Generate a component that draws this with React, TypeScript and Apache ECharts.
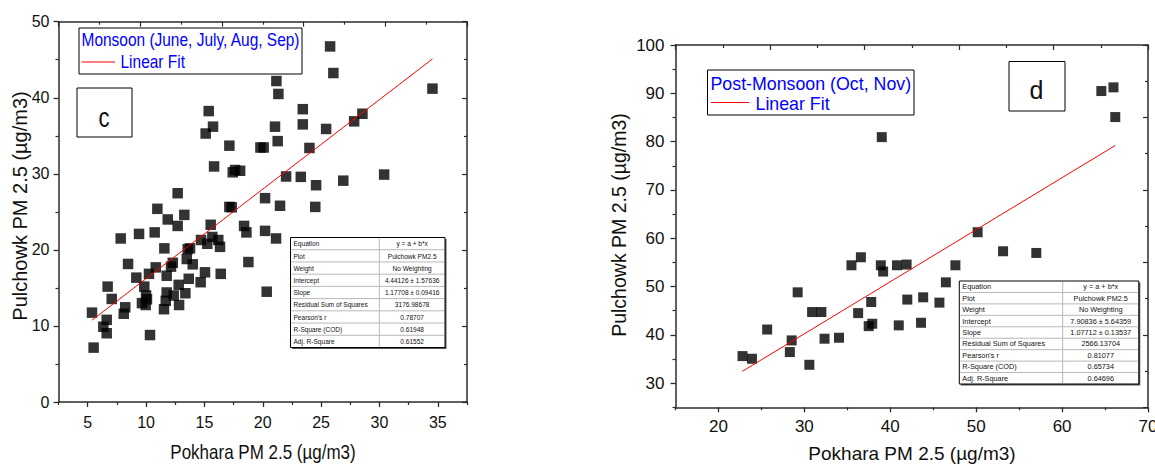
import React, { useEffect, useRef } from "react";
import * as echarts from "echarts";

// ---------- data ----------
const monsoonPokhara = [
  25.77, 26.05, 21.17, 21.34, 34.54, 15.37, 15.74, 15.11, 17.14, 19.8, 20.08, 21.05, 21.28, 23.43, 23.43, 24.0, 25.43, 27.83, 28.54,
  15.83, 17.43, 17.63, 18.06, 22.0, 23.26, 24.57, 26.9, 30.4, 24.5, 21.48, 20.2, 17.14, 17.34, 18.4, 18.6, 20.2, 21.14, 18.77, 20.34,
  12.71, 10.97, 13.28, 11.86, 12.71, 15.54, 9.4, 10.74, 7.83, 11.57, 13.57, 13.77, 14.71, 15.68, 16.19, 16.34, 15.25, 12.29, 12.14,
  13.49, 14.0, 10.83, 10.25, 8.46, 9.17, 9.85, 11.77, 13.66, 15.05, 16.4, 14.68, 12.8, 6.71, 7.06, 10.0, 10.08, 11.77, 11.69, 12.37,
  13.37, 9.65, 8.22, 9.97, 11.54, 12.83, 5.37, 6.63, 6.34, 6.63, 5.51, 8.09, 10.34,
];
const monsoonPulchowk = [
  46.75, 43.25, 42.2, 40.5, 41.2, 38.25, 36.2, 35.3, 33.7, 33.46, 33.46, 36.2, 34.3, 38.5, 36.5, 33.4, 35.9, 36.9, 37.9,
  30.97, 30.2, 30.5, 30.4, 29.65, 29.6, 28.5, 29.1, 29.9, 25.65, 25.8, 26.8, 25.65, 25.6, 23.15, 22.3, 22.5, 21.5, 18.4, 14.5,
  27.45, 25.4, 24.6, 24.0, 23.15, 23.3, 22.1, 22.3, 21.5, 20.2, 20.1, 20.2, 21.3, 21.7, 21.3, 20.4, 20.8, 18.3, 17.8,
  18.8, 18.1, 17.7, 16.85, 18.15, 16.35, 15.17, 16.6, 16.2, 17.05, 16.85, 15.75, 15.4, 15.17, 13.55, 14.0, 13.5, 14.4, 13.3, 14.0,
  14.3, 13.0, 12.45, 12.75, 12.2, 12.75, 11.75, 10.8, 9.9, 9.04, 7.15, 11.6, 8.8,
];
const postPokhara = [
  39.01, 64.57, 65.98, 66.19, 50.17, 53.13, 57.0, 35.48, 36.58, 38.9, 39.17, 40.78, 41.9, 47.58, 46.47, 29.22, 37.78, 41.98,
  43.83, 45.72, 30.9, 31.98, 36.26, 37.49, 37.9, 40.99, 43.58, 34.03, 32.35, 28.52, 28.31, 25.67, 30.58, 22.8, 23.9,
];
const postPulchowk = [
  80.93, 90.47, 91.23, 85.08, 61.24, 57.3, 56.95, 54.4, 56.06, 54.4, 53.1, 54.4, 54.55, 54.4, 50.87, 48.8, 46.8, 47.3,
  47.77, 46.67, 44.72, 44.72, 44.5, 41.8, 42.3, 41.96, 42.5, 39.4, 39.2, 38.85, 36.43, 41.1, 33.8, 35.6, 35.05,
];

// linear fits: [intercept, slope] and x-range of the drawn line
const monsoonFitCoef = [4.44126, 1.17708];
const monsoonFitRange = [5.37, 34.54];
const postFitCoef = [7.90836, 1.07712];
const postFitRange = [22.8, 66.19];

// ticks
const leftXMajor = [5, 10, 15, 20, 25, 30, 35];
const leftXMinor = [2.5, 7.5, 12.5, 17.5, 22.5, 27.5, 32.5, 37.5];
const leftYMajor = [0, 10, 20, 30, 40, 50];
const leftYMinor = [5, 15, 25, 35, 45];
const rightXMajor = [20, 30, 40, 50, 60, 70];
const rightXMinor = [15, 25, 35, 45, 55, 65];
const rightYMajor = [30, 40, 50, 60, 70, 80, 90, 100];
const rightYMinor = [25, 35, 45, 55, 65, 75, 85, 95];

// fit tables
const tableLabels = [
  "Equation", "Plot", "Weight", "Intercept", "Slope", "Residual Sum of Squares", "Pearson's r", "R-Square (COD)", "Adj. R-Square",
];
const monsoonStats = [
  "y = a + b*x", "Pulchowk PM2.5", "No Weighting", "4.44126 ± 1.57636", "1.17708 ± 0.09416", "3176.98678", "0.78707", "0.61948", "0.61552",
];
const postStats = [
  "y = a + b*x", "Pulchowk PM2.5", "No Weighting", "7.90836 ± 5.64359", "1.07712 ± 0.13537", "2566.13704", "0.81077", "0.65734", "0.64696",
];

const SANS = "'Liberation Sans', Arial, sans-serif";
const AX = "#2b2b2b";
const SQ = 0.82; // horizontal squeeze of the left panel's table texts

function axisSet(dim: string, grid: number, min: number, max: number, majors: number[], minors: number[], fontSize: number, margin: number) {
  const isX = dim === "x";
  const common = { type: "value", gridIndex: grid, min, max, splitLine: { show: false } };
  const main = {
    ...common,
    position: isX ? "bottom" : "left",
    axisLine: { show: true, onZero: false, lineStyle: { color: AX, width: 1.5 } },
    axisTick: { show: true, inside: false, length: 5, customValues: majors, lineStyle: { color: AX, width: 1.3 } },
    axisLabel: { show: true, customValues: majors, color: "#111", fontFamily: SANS, fontSize, margin },
  };
  const minor = {
    ...common,
    position: isX ? "bottom" : "left",
    axisLine: { show: false, onZero: false },
    axisTick: { show: true, inside: false, length: 3, customValues: minors, lineStyle: { color: AX, width: 1.2 } },
    axisLabel: { show: false },
  };
  const mirror = {
    ...common,
    position: isX ? "top" : "right",
    interval: (max - min) / 5,
    axisLine: { show: true, onZero: false, lineStyle: { color: AX, width: 1.5 } },
    axisTick: { show: true, inside: true, length: 5, lineStyle: { color: AX, width: 1.2 } },
    minorTick: { show: true, splitNumber: 2, length: 3, lineStyle: { color: AX, width: 1.2 } },
    axisLabel: { show: false },
  };
  return [main, minor, mirror];
}

function buildTable(x: number, y: number, w: number, h: number, div: number, values: string[], fontSize: number, sx: number) {
  const rh = h / tableLabels.length;
  const els: any[] = [];
  els.push({ type: "rect", shape: { x: x + 1.5, y: y + 1.5, width: w, height: h }, style: { fill: "#555", stroke: null }, z: 10 });
  els.push({ type: "rect", shape: { x, y, width: w, height: h }, style: { fill: "#fff", stroke: "#000", lineWidth: 1 }, z: 11 });
  for (let i = 1; i < tableLabels.length; i++) {
    els.push({ type: "line", shape: { x1: x + 1, y1: y + i * rh, x2: x + w - 1, y2: y + i * rh }, style: { stroke: "#b8b8b8", lineWidth: 1 }, z: 12 });
  }
  els.push({ type: "line", shape: { x1: div, y1: y + 1, x2: div, y2: y + h - 1 }, style: { stroke: "#b8b8b8", lineWidth: 1 }, z: 12 });
  tableLabels.forEach((lab, i) => {
    els.push({ type: "text", x: x + 3, y: y + (i + 0.5) * rh, scaleX: sx, style: { text: lab, fontFamily: SANS, fontSize, fill: "#111", align: "left", verticalAlign: "middle" }, z: 13 });
    els.push({ type: "text", x: (div + x + w) / 2, y: y + (i + 0.5) * rh, scaleX: sx, style: { text: values[i], fontFamily: SANS, fontSize, fill: "#111", align: "center", verticalAlign: "middle" }, z: 13 });
  });
  return els;
}

export default function App() {
  const ref = useRef<HTMLDivElement>(null);
  useEffect(() => {
    if (!ref.current) return;
    const chart = echarts.init(ref.current, null, { renderer: "svg" });
    const xAxes = [
      ...axisSet("x", 0, 2.5, 37.5, leftXMajor, leftXMinor, 16, 12),
      ...axisSet("x", 1, 15, 70, rightXMajor, rightXMinor, 17, 11),
    ];
    const yAxes = [
      ...axisSet("y", 0, 0, 50, leftYMajor, leftYMinor, 16, 9),
      ...axisSet("y", 1, 25, 100, rightYMajor, rightYMinor, 17, 11),
    ];
    const fitLine = (coef: number[], range: number[]) => range.map((x) => [x, coef[0] + coef[1] * x]);
    const option: any = {
      animation: false,
      backgroundColor: "#fff",
      grid: [
        { left: 58.5, top: 21.7, width: 408.5, height: 380.3, outerBoundsMode: "none", containLabel: false },
        { left: 675.5, top: 45, width: 472.5, height: 362.3, outerBoundsMode: "none", containLabel: false },
      ],
      xAxis: xAxes,
      yAxis: yAxes,
      series: [
        {
          type: "scatter", xAxisIndex: 0, yAxisIndex: 0, symbol: "rect", symbolSize: 10.5,
          itemStyle: { color: "#000" }, data: monsoonPokhara.map((x, i) => [x, monsoonPulchowk[i]]),
        },
        {
          type: "line", xAxisIndex: 0, yAxisIndex: 0, symbol: "none", z: 5,
          lineStyle: { color: "#ff0000", width: 1 }, data: fitLine(monsoonFitCoef, monsoonFitRange),
        },
        {
          type: "scatter", xAxisIndex: 3, yAxisIndex: 3, symbol: "rect", symbolSize: 10,
          itemStyle: { color: "#000" }, data: postPokhara.map((x, i) => [x, postPulchowk[i]]),
        },
        {
          type: "line", xAxisIndex: 3, yAxisIndex: 3, symbol: "none", z: 5,
          lineStyle: { color: "#ff0000", width: 1 }, data: fitLine(postFitCoef, postFitRange),
        },
      ],
      graphic: [
        // axis titles
        { type: "text", x: 263, y: 452, scaleX: 0.85, style: { text: "Pokhara PM 2.5 (µg/m3)", fontFamily: SANS, fontSize: 20, fill: "#111", align: "center", verticalAlign: "middle" } },
        { type: "text", x: 20, y: 206, rotation: Math.PI / 2, style: { text: "Pulchowk PM 2.5 (µg/m3)", fontFamily: SANS, fontSize: 20, fill: "#111", align: "center", verticalAlign: "middle" } },
        { type: "text", x: 912, y: 453, style: { text: "Pokhara PM 2.5 (µg/m3)", fontFamily: SANS, fontSize: 19, fill: "#111", align: "center", verticalAlign: "middle" } },
        { type: "text", x: 619, y: 225, rotation: Math.PI / 2, style: { text: "Pulchowk PM 2.5 (µg/m3)", fontFamily: SANS, fontSize: 19.5, fill: "#111", align: "center", verticalAlign: "middle" } },
        // left legend
        { type: "rect", shape: { x: 79, y: 28, width: 223, height: 46 }, style: { fill: "#fff", stroke: "#000", lineWidth: 1 }, z: 8 },
        { type: "text", x: 81.5, y: 40.5, scaleX: 0.86, style: { text: "Monsoon (June, July, Aug, Sep)", fontFamily: SANS, fontSize: 18, fill: "#0000ff", align: "left", verticalAlign: "middle" }, z: 9 },
        { type: "line", shape: { x1: 81.5, y1: 62, x2: 115, y2: 62 }, style: { stroke: "#ff0000", lineWidth: 1 }, z: 9 },
        { type: "text", x: 120.5, y: 62.5, scaleX: 0.86, style: { text: "Linear Fit", fontFamily: SANS, fontSize: 18, fill: "#0000ff", align: "left", verticalAlign: "middle" }, z: 9 },
        // c box
        { type: "rect", shape: { x: 77, y: 88, width: 55, height: 49 }, style: { fill: "#fff", stroke: "#000", lineWidth: 1 }, z: 8 },
        { type: "text", x: 104, y: 118, scaleX: SQ, style: { text: "c", fontFamily: SANS, fontSize: 27, fill: "#111", align: "center", verticalAlign: "middle" }, z: 9 },
        // right legend
        { type: "rect", shape: { x: 707.5, y: 70, width: 206.5, height: 45 }, style: { fill: "#fff", stroke: "#000", lineWidth: 1 }, z: 8 },
        { type: "text", x: 710.5, y: 83.5, style: { text: "Post-Monsoon (Oct, Nov)", fontFamily: SANS, fontSize: 17.8, fill: "#0000ff", align: "left", verticalAlign: "middle" }, z: 9 },
        { type: "line", shape: { x1: 711, y1: 102.5, x2: 749, y2: 102.5 }, style: { stroke: "#ff0000", lineWidth: 1 }, z: 9 },
        { type: "text", x: 755.5, y: 103.5, style: { text: "Linear Fit", fontFamily: SANS, fontSize: 17.8, fill: "#0000ff", align: "left", verticalAlign: "middle" }, z: 9 },
        // d box
        { type: "rect", shape: { x: 1009, y: 61.5, width: 56, height: 49.5 }, style: { fill: "#fff", stroke: "#000", lineWidth: 1 }, z: 8 },
        { type: "text", x: 1036.5, y: 90, style: { text: "d", fontFamily: SANS, fontSize: 25, fill: "#111", align: "center", verticalAlign: "middle" }, z: 9 },
        // tables
        ...buildTable(290.5, 237.5, 154.5, 110, 379.3, monsoonStats, 8, SQ),
        ...buildTable(959.3, 281, 179.5, 103, 1062.7, postStats, 7.3, 1),
      ],
    };
    chart.setOption(option);
    return () => chart.dispose();
  }, []);
  return <div ref={ref} style={{ position: "fixed", left: 0, top: 0, width: 1155, height: 464, background: "#fff" }} />;
}
